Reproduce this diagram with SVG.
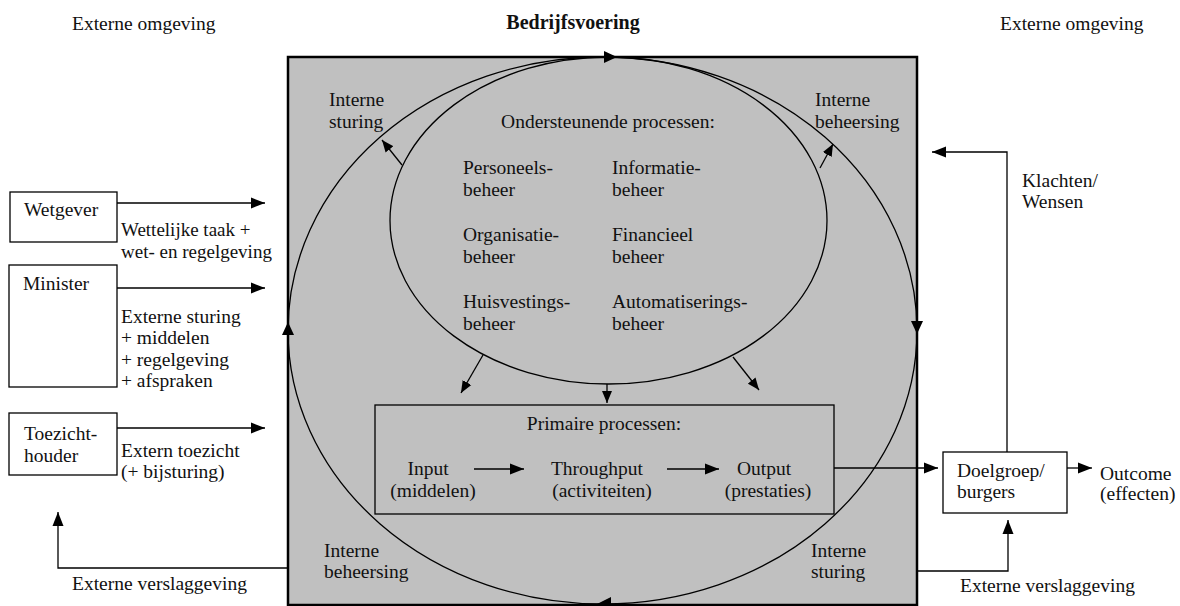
<svg xmlns="http://www.w3.org/2000/svg" width="1180" height="606" viewBox="0 0 1180 606" font-family="'Liberation Serif', 'DejaVu Serif', serif">
<style>
text{font-family:'Liberation Serif','DejaVu Serif',serif;font-size:19.5px;fill:#111}
.b{font-weight:bold;font-size:20px}
.m{text-anchor:middle}
.t{font-size:19px}
.ln{stroke:#000;stroke-width:1.3;fill:none}
.box{stroke:#000;stroke-width:1.3;fill:#fff}
.ah{fill:#000;stroke:none}
</style>
<defs>
<marker id="a" markerUnits="userSpaceOnUse" markerWidth="15" markerHeight="12" refX="14" refY="6" orient="auto">
<path d="M0,0.5 L14,6 L0,11.5 z" fill="#000"/>
</marker>
<marker id="s" markerUnits="userSpaceOnUse" markerWidth="13" markerHeight="11" refX="12" refY="5.5" orient="auto">
<path d="M0,0.5 L12,5.5 L0,10.5 z" fill="#000"/>
</marker>
</defs>

<g id="bedrijfsvoering">
<rect x="288" y="57" width="629" height="548" fill="#c0c0c0" stroke="#000" stroke-width="2.5"/>
<text class="b m" x="573" y="29">Bedrijfsvoering</text>
</g>

<g id="cycle">
<ellipse cx="602.5" cy="330.5" rx="314.5" ry="273.5" class="ln"/>
<polygon class="ah" points="617,57 604,51 604,63"/>
<polygon class="ah" points="917,334 911,321 923,321"/>
<polygon class="ah" points="597,604 611,597 611,605"/>
<polygon class="ah" points="288,322 282,335 294,335"/>
</g>

<g id="ondersteunend">
<ellipse cx="608.5" cy="220.5" rx="218.5" ry="163.5" class="ln"/>
<text class="m" x="608" y="128">Ondersteunende processen:</text>
<text x="463" y="174">Personeels-</text>
<text x="463" y="196">beheer</text>
<text x="612" y="174">Informatie-</text>
<text x="612" y="196">beheer</text>
<text x="463" y="241">Organisatie-</text>
<text x="463" y="263">beheer</text>
<text x="612" y="241">Financieel</text>
<text x="612" y="263">beheer</text>
<text x="463" y="308">Huisvestings-</text>
<text x="463" y="330">beheer</text>
<text x="612" y="308">Automatiserings-</text>
<text x="612" y="330">beheer</text>
</g>

<g id="primair">
<rect x="375" y="405" width="459" height="109" fill="none" stroke="#000" stroke-width="1.3"/>
<text class="m" x="604" y="430">Primaire processen:</text>
<text class="m" x="428" y="475">Input</text>
<text class="m" x="433" y="497">(middelen)</text>
<text class="m" x="597" y="475">Throughput</text>
<text class="m" x="602" y="497">(activiteiten)</text>
<text class="m" x="764" y="475">Output</text>
<text class="m" x="768" y="497">(prestaties)</text>
</g>

<g id="labels-intern">
<text x="329" y="106">Interne</text>
<text x="329" y="128">sturing</text>
<text x="815" y="106">Interne</text>
<text x="815" y="128">beheersing</text>
<text x="324" y="557">Interne</text>
<text x="324" y="578">beheersing</text>
<text x="811" y="557">Interne</text>
<text x="811" y="578">sturing</text>
</g>

<g id="omgeving">
<text x="72" y="30">Externe omgeving</text>
<text x="1000" y="30">Externe omgeving</text>
</g>

<g id="wetgever">
<rect class="box" x="10" y="192" width="107" height="50"/>
<text x="24" y="216">Wetgever</text>
</g>
<g id="minister">
<rect class="box" x="9" y="265" width="108" height="122"/>
<text x="23" y="290">Minister</text>
</g>
<g id="toezichthouder">
<rect class="box" x="9" y="413" width="108" height="62"/>
<text x="24" y="440">Toezicht-</text>
<text x="24" y="462">houder</text>
</g>
<g id="doelgroep">
<rect class="box" x="943" y="452" width="124" height="61"/>
<text x="957" y="477">Doelgroep/</text>
<text x="957" y="498">burgers</text>
</g>
<g id="outcome">
<text x="1100" y="480">Outcome</text>
<text x="1100" y="500">(effecten)</text>
</g>

<g id="connectors">
<line class="ln" x1="117" y1="203" x2="265" y2="203" marker-end="url(#a)"/>
<line class="ln" x1="117" y1="288" x2="265" y2="288" marker-end="url(#a)"/>
<line class="ln" x1="117" y1="428" x2="265" y2="428" marker-end="url(#a)"/>
<polyline class="ln" points="288,568 58,568 58,512" marker-end="url(#a)"/>
<polyline class="ln" points="917,571 1008,571 1008,520" marker-end="url(#a)"/>
<line class="ln" x1="834" y1="468" x2="938" y2="468" marker-end="url(#a)"/>
<line class="ln" x1="1067" y1="468" x2="1092" y2="468" marker-end="url(#a)"/>
<polyline class="ln" points="1007,452 1007,152 932,152" marker-end="url(#a)"/>
<line class="ln" x1="474" y1="469" x2="524" y2="469" marker-end="url(#a)"/>
<line class="ln" x1="667" y1="469" x2="719" y2="469" marker-end="url(#a)"/>
<line class="ln" x1="402" y1="165" x2="382" y2="140" marker-end="url(#s)"/>
<line class="ln" x1="820" y1="168" x2="833" y2="144" marker-end="url(#s)"/>
<line class="ln" x1="483" y1="355" x2="461" y2="393" marker-end="url(#s)"/>
<line class="ln" x1="607" y1="384" x2="607" y2="403" marker-end="url(#s)"/>
<line class="ln" x1="733" y1="357" x2="759" y2="390" marker-end="url(#s)"/>
</g>

<g id="connector-labels">
<text class="t" x="121" y="236">Wettelijke taak +</text>
<text class="t" x="121" y="257.5">wet- en regelgeving</text>
<text x="121" y="323">Externe sturing</text>
<text x="121" y="344">+ middelen</text>
<text x="121" y="366">+ regelgeving</text>
<text x="121" y="387">+ afspraken</text>
<text x="121" y="457">Extern toezicht</text>
<text x="121" y="478">(+ bijsturing)</text>
<text x="72" y="590">Externe verslaggeving</text>
<text x="960" y="592">Externe verslaggeving</text>
<text x="1022" y="187">Klachten/</text>
<text x="1022" y="208">Wensen</text>
</g>
</svg>
